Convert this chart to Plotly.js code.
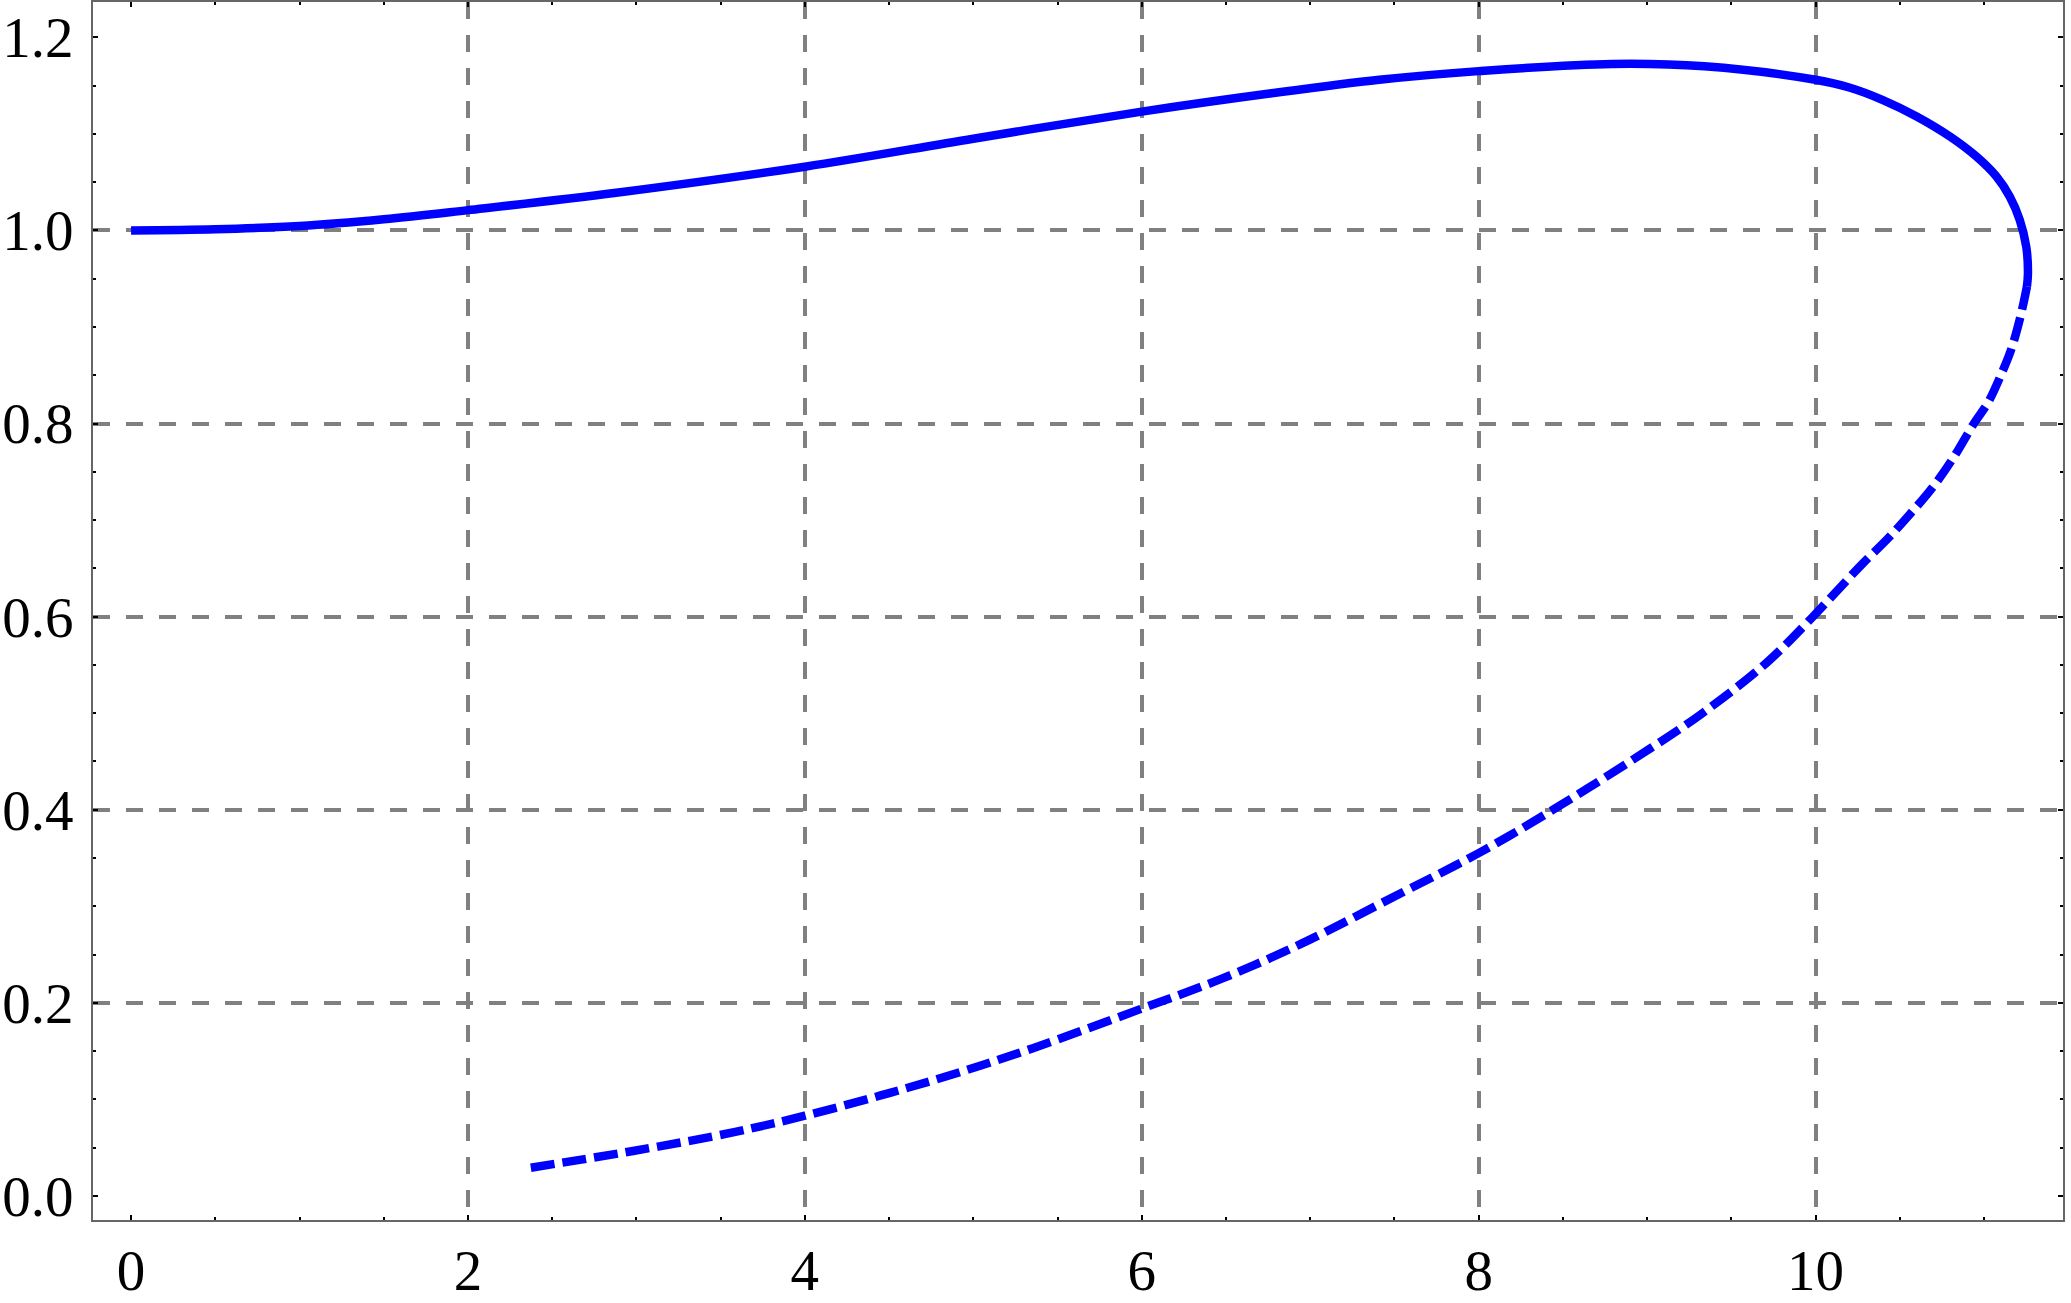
<!DOCTYPE html>
<html>
<head>
<meta charset="utf-8">
<script src="https://cdn.plot.ly/plotly-3.0.1.min.js"></script>
<style>
  html, body { margin: 0; padding: 0; background: #fff; }
  #curvePlot { width: 2071px; height: 1303px; }
</style>
</head>
<body>
<div id="curvePlot"></div>
<script>
// upper branch (solid)
var upperX = [0, 0.5, 1.0, 1.5, 2.0, 2.88, 4.0, 5.0, 6.0, 6.77, 7.41, 8.0, 8.79, 9.34, 10.0, 10.2, 10.4, 10.6, 10.8, 10.955, 11.074, 11.153, 11.212, 11.251, 11.261, 11.255];
var upperY = [1.000, 1.0012, 1.0045, 1.0115, 1.021, 1.039, 1.066, 1.095, 1.123, 1.142, 1.156, 1.165, 1.1725, 1.170, 1.156, 1.148, 1.135, 1.118, 1.097, 1.0765, 1.0558, 1.035, 1.011, 0.983, 0.956, 0.942];

// lower branch (dashed)
var lowerX = [11.255, 11.235, 11.205, 11.16, 11.10, 11.025, 10.94, 10.82, 10.70, 10.56, 10.43, 10.28, 10.14, 9.985, 9.708, 9.313, 8.917, 8.442, 8.0, 7.532, 6.945, 6.49, 6.0, 5.354, 4.9, 4.45, 4.0, 3.58, 2.98, 2.33];
var lowerY = [0.942, 0.925, 0.903, 0.876, 0.850, 0.822, 0.800, 0.765, 0.735, 0.706, 0.681, 0.655, 0.629, 0.600, 0.552, 0.498, 0.452, 0.400, 0.355, 0.313, 0.261, 0.226, 0.194, 0.153, 0.127, 0.104, 0.083, 0.066, 0.0465, 0.028];

// grid positions (no grid at 0 or 1.2)
var gridX = [2, 4, 6, 8, 10];
var gridY = [0.2, 0.4, 0.6, 0.8, 1.0];

var xRange = [-0.226, 11.469];
var yRange = [-0.025, 1.2366];

var labelFont = {family: 'Liberation Serif, Times New Roman, serif', size: 57, color: '#000'};

var upper = {
    x: upperX,
    y: upperY,
    mode: 'lines',
    line: {color: '#0000ff', width: 8.5, shape: 'spline', smoothing: 1},
    hoverinfo: 'skip'
};

// dashed branch sits on the grid axes (same ranges as the frame axes)
var lower = {
    x: lowerX,
    y: lowerY,
    xaxis: 'x2',
    yaxis: 'y2',
    mode: 'lines',
    line: {color: '#0000ff', width: 8.5, dash: '24px,8px', shape: 'spline', smoothing: 1},
    hoverinfo: 'skip'
};

var data = [upper, lower];

var layout = {
    width: 2071,
    height: 1303,
    margin: {l: 93, r: 8, t: 2, b: 83},
    paper_bgcolor: '#fff',
    plot_bgcolor: '#fff',
    showlegend: false,
    xaxis: {
        range: xRange,
        tickmode: 'linear', tick0: 0, dtick: 2,
        ticks: 'inside', ticklen: 5, tickwidth: 2, tickcolor: '#000',
        minor: {tickmode: 'linear', tick0: 0, dtick: 0.5, ticks: 'inside', ticklen: 3, tickwidth: 2, tickcolor: '#000', showgrid: false},
        showline: true, mirror: 'allticks', linecolor: '#666', linewidth: 2,
        showgrid: false, zeroline: false,
        tickfont: labelFont,
        ticklabelstandoff: 0
    },
    yaxis: {
        range: yRange,
        tickmode: 'linear', tick0: 0, dtick: 0.2,
        tickformat: '.1f',
        ticks: 'inside', ticklen: 5, tickwidth: 2, tickcolor: '#000',
        minor: {tickmode: 'linear', tick0: 0, dtick: 0.05, ticks: 'inside', ticklen: 3, tickwidth: 2, tickcolor: '#000', showgrid: false},
        showline: true, mirror: 'allticks', linecolor: '#666', linewidth: 2,
        showgrid: false, zeroline: false,
        tickfont: labelFont,
        ticklabelstandoff: 6
    },
    xaxis2: {
        overlaying: 'x', anchor: 'y2',
        range: xRange,
        tickmode: 'array', tickvals: gridX,
        showticklabels: false, ticks: '',
        showgrid: true, gridcolor: '#808080', gridwidth: 4, griddash: '17px,16px',
        showline: false, zeroline: false
    },
    yaxis2: {
        overlaying: 'y', anchor: 'x2',
        range: yRange,
        tickmode: 'array', tickvals: gridY,
        showticklabels: false, ticks: '',
        showgrid: true, gridcolor: '#808080', gridwidth: 4, griddash: '17px,16px',
        showline: false, zeroline: false
    }
};

Plotly.newPlot('curvePlot', data, layout, {displayModeBar: false, staticPlot: true});
</script>
</body>
</html>
